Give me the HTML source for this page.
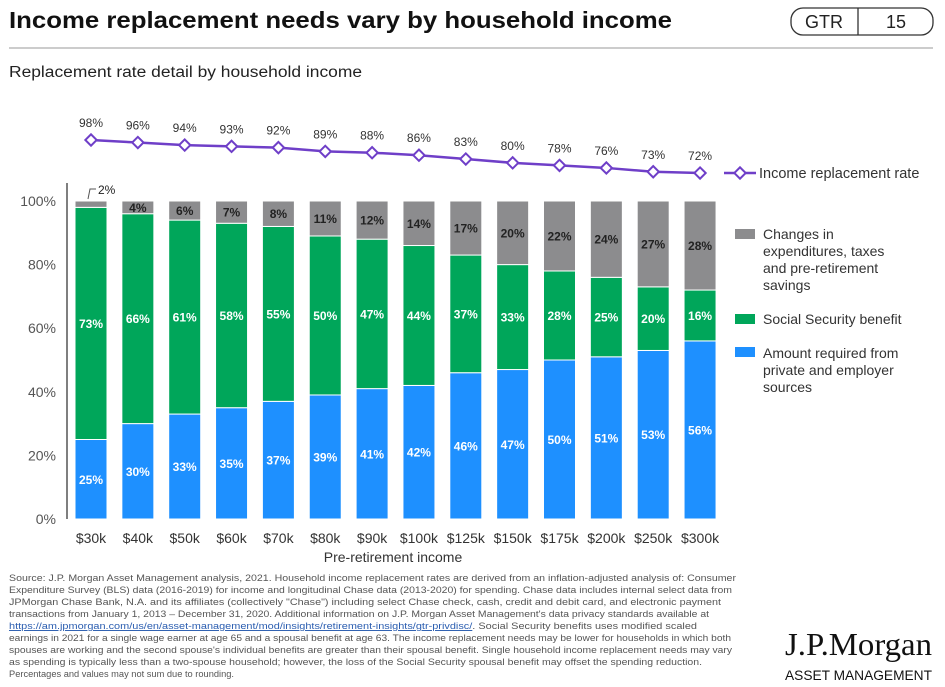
<!DOCTYPE html>
<html><head><meta charset="utf-8"><style>
body{margin:0;background:#fff;}
svg{display:block;font-family:"Liberation Sans",sans-serif;}
</style></head><body>
<svg id="c" width="945" height="687" viewBox="0 0 945 687" xmlns="http://www.w3.org/2000/svg">
<text x="9" y="28" font-size="23" font-weight="bold" fill="#111" textLength="663" lengthAdjust="spacingAndGlyphs">Income replacement needs vary by household income</text>
<line x1="9" y1="48" x2="933" y2="48" stroke="#999" stroke-width="1"/>
<g>
<rect x="791" y="8" width="142" height="27" rx="12" fill="none" stroke="#333" stroke-width="1.3"/>
<line x1="858" y1="8" x2="858" y2="35" stroke="#333" stroke-width="1.3"/>
<text x="824" y="28" font-size="18" text-anchor="middle" fill="#222">GTR</text>
<text x="896" y="28" font-size="18" text-anchor="middle" fill="#222">15</text>
</g>
<text x="9" y="77" font-size="15.5" fill="#222" textLength="353" lengthAdjust="spacingAndGlyphs">Replacement rate detail by household income</text>
<g id="axes"></g>
<g id="bars"></g>
<g id="line"></g>
<g>
<line x1="724" y1="173" x2="756" y2="173" stroke="#6f3fc8" stroke-width="2.5"/>
<rect x="736" y="169" width="8" height="8" transform="rotate(45 740 173)" fill="#fff" stroke="#6f3fc8" stroke-width="2"/>
<text x="759" y="178" font-size="14.5" fill="#333">Income replacement rate</text>
<rect x="735" y="229" width="20" height="10" fill="#8c8c8e"/>
<text font-size="14" fill="#333"><tspan x="763" y="239">Changes in</tspan><tspan x="763" y="256">expenditures, taxes</tspan><tspan x="763" y="273">and pre-retirement</tspan><tspan x="763" y="290">savings</tspan></text>
<rect x="735" y="314" width="20" height="10" fill="#00a65a"/>
<text x="763" y="324" font-size="14" fill="#333">Social Security benefit</text>
<rect x="735" y="347" width="20" height="10" fill="#1e90ff"/>
<text font-size="14" fill="#333"><tspan x="763" y="358">Amount required from</tspan><tspan x="763" y="375">private and employer</tspan><tspan x="763" y="392">sources</tspan></text>
</g>
<g id="foot" font-size="9.6" fill="#555">
<text x="9" y="581" textLength="727" lengthAdjust="spacingAndGlyphs">Source: J.P. Morgan Asset Management analysis, 2021. Household income replacement rates are derived from an inflation-adjusted analysis of: Consumer</text>
<text x="9" y="593" textLength="723" lengthAdjust="spacingAndGlyphs">Expenditure Survey (BLS) data (2016-2019) for income and longitudinal Chase data (2013-2020) for spending. Chase data includes internal select data from</text>
<text x="9" y="605" textLength="712" lengthAdjust="spacingAndGlyphs">JPMorgan Chase Bank, N.A. and its affiliates (collectively "Chase") including select Chase check, cash, credit and debit card, and electronic payment</text>
<text x="9" y="617" textLength="700" lengthAdjust="spacingAndGlyphs">transactions from January 1, 2013 – December 31, 2020. Additional information on J.P. Morgan Asset Management's data privacy standards available at</text>
<text x="9" y="629" textLength="688" lengthAdjust="spacingAndGlyphs"><tspan fill="#2a5db0" text-decoration="underline">https://am.jpmorgan.com/us/en/asset-management/mod/insights/retirement-insights/gtr-privdisc/</tspan>. Social Security benefits uses modified scaled</text>
<text x="9" y="641" textLength="722" lengthAdjust="spacingAndGlyphs">earnings in 2021 for a single wage earner at age 65 and a spousal benefit at age 63. The income replacement needs may be lower for households in which both</text>
<text x="9" y="653" textLength="723" lengthAdjust="spacingAndGlyphs">spouses are working and the second spouse's individual benefits are greater than their spousal benefit. Single household income replacement needs may vary</text>
<text x="9" y="665" textLength="693" lengthAdjust="spacingAndGlyphs">as spending is typically less than a two-spouse household; however, the loss of the Social Security spousal benefit may offset the spending reduction.</text>
<text x="9" y="677" textLength="225" lengthAdjust="spacingAndGlyphs">Percentages and values may not sum due to rounding.</text>
</g>
<g>
<text x="785" y="655" font-family="Liberation Serif,serif" font-size="32" fill="#111" textLength="147" lengthAdjust="spacingAndGlyphs">J.P.Morgan</text>
<text x="785" y="680" font-size="14" fill="#111" textLength="147" lengthAdjust="spacingAndGlyphs">ASSET MANAGEMENT</text>
</g>
</svg>
<script>
const categories=["$30k","$40k","$50k","$60k","$70k","$80k","$90k","$100k","$125k","$150k","$175k","$200k","$250k","$300k"];
const privateValues=[25,30,33,35,37,39,41,42,46,47,50,51,53,56];
const socialSecurityValues=[73,66,61,58,55,50,47,44,37,33,28,25,20,16];
const changesValues=[2,4,6,7,8,11,12,14,17,20,22,24,27,28];
const replacementRates=[98,96,94,93,92,89,88,86,83,80,78,76,73,72];
const yTicks=[0,20,40,60,80,100];
const NS="http://www.w3.org/2000/svg";
const X0=91,DX=46.85,BW=32;
const xPos=i=>X0+i*DX;
const yPos=v=>519-v*3.18;
const lineY=v=>140+(98-v)*1.27;
function mk(tag,attrs,parent,txt){const e=document.createElementNS(NS,tag);for(const k in attrs)e.setAttribute(k,attrs[k]);if(txt!==undefined)e.textContent=txt;parent.appendChild(e);return e;}
const axes=document.getElementById('axes'),bars=document.getElementById('bars'),line=document.getElementById('line');
let ax=mk('line',{x1:67,y1:183,x2:67,y2:519,stroke:'#555','stroke-width':1.5},axes);


yTicks.forEach(t=>{const e=mk('text',{x:56,y:yPos(t)+5,'font-size':14,fill:'#555','text-anchor':'end'},axes,t+'%');

});
categories.forEach((c,i)=>{const e=mk('text',{x:xPos(i),y:543,'font-size':14,fill:'#333','text-anchor':'middle'},axes,c);

});
const xt=mk('text',{x:393,y:562,'font-size':14,fill:'#333','text-anchor':'middle'},axes,'Pre-retirement income');


categories.forEach((c,i)=>{
 const x=xPos(i)-BW/2;
 const p=privateValues[i],s=socialSecurityValues[i],g=changesValues[i];
 const segs=[[0,p,'#1e90ff','#fff','bar-private'],[p,p+s,'#00a65a','#fff','bar-social-security'],[p+s,p+s+g,'#8c8c8e','#222','bar-changes']];
 segs.forEach(([a,b,col,tc,nm],k)=>{
  const r=mk('rect',{x:x,y:yPos(b),width:BW,height:yPos(a)-yPos(b),fill:col,stroke:'#fff','stroke-width':1},bars);
  
  
  const v=b-a;
  if(k==2&&v<3){
   mk('path',{d:`M${xPos(i)-3} ${yPos(b)-2} L${xPos(i)-1} ${yPos(b)-12} L${xPos(i)+5} ${yPos(b)-12}`,fill:'none',stroke:'#555','stroke-width':1},bars);
   mk('text',{x:xPos(i)+7,y:yPos(b)-7,'font-size':12,fill:'#222'},bars,v+'%');
  } else {
   const ty=yPos((a+b)/2)+4.5;
   const lbl=mk('text',{x:xPos(i),y:ty,'font-size':12,'font-weight':'bold',fill:tc,'text-anchor':'middle'},bars,v+'%');
   
   
  }
 });
});
let pts=replacementRates.map((v,i)=>xPos(i)+','+lineY(v)).join(' ');
const pl=mk('polyline',{points:pts,fill:'none',stroke:'#6f3fc8','stroke-width':2.5},line);


replacementRates.forEach((v,i)=>{
 const cx=xPos(i),cy=lineY(v);
 const d=mk('rect',{x:cx-4,y:cy-4,width:8,height:8,transform:`rotate(45 ${cx} ${cy})`,fill:'#fff',stroke:'#6f3fc8','stroke-width':2},line);
 
 
 const t=mk('text',{x:cx,y:cy-13,'font-size':12,fill:'#333','text-anchor':'middle'},line,v+'%');
 
 
});
</script>
</body></html>
